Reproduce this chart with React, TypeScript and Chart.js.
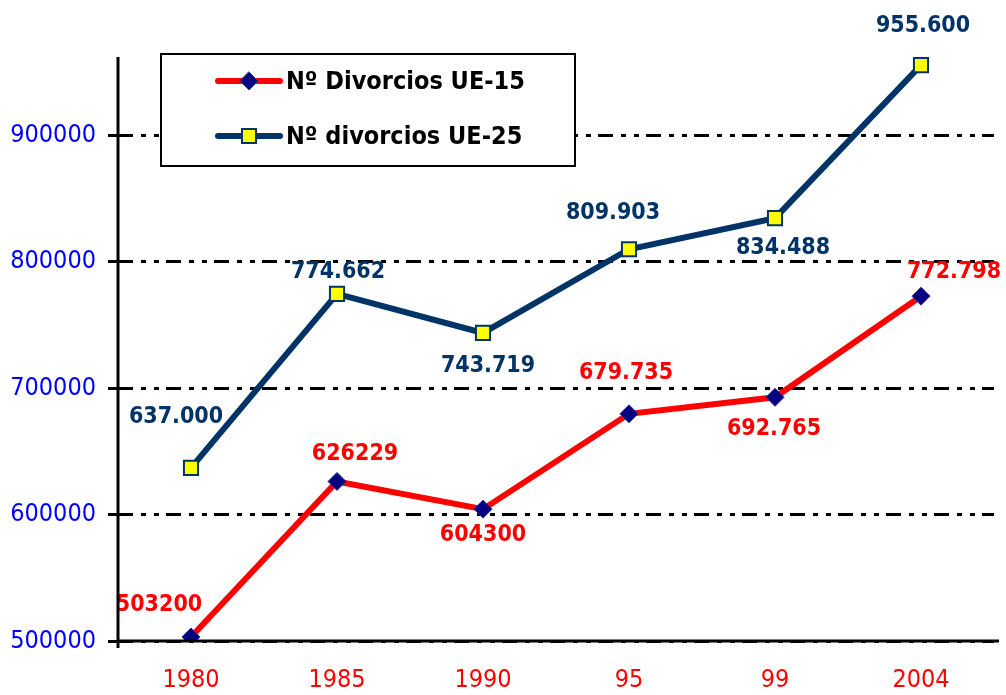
import React, { useEffect, useRef } from "react";
import { Chart, registerables } from "chart.js";

Chart.register(...registerables);

const categories = ["1980", "1985", "1990", "95", "99", "2004"];
const ue15Values = [503200, 626229, 604300, 679735, 692765, 772798];
const ue25Values = [637000, 774662, 743719, 809903, 834488, 955600];
const ue15Labels = ["503200", "626229", "604300", "679.735", "692.765", "772.798"];
const ue25Labels = ["637.000", "774.662", "743.719", "809.903", "834.488", "955.600"];
const seriesNames = ["Nº Divorcios UE-15", "Nº divorcios UE-25"];
const yTicks = [500000, 600000, 700000, 800000, 900000];

// label offsets (px) relative to each point
const ue15Offsets = [[-32, -32], [18, -27], [0, 26], [-3, -41], [-1, 32], [33, -24]];
const ue25Offsets = [[-15, -51], [1, -22], [5, 33], [-16, -36], [8, 30], [2, -39]];

const RED = "#FF0000";
const NAVY = "#003366";
const DIAMOND = "#000080";
const YELLOW = "#FFFF00";
const COND = "'DejaVu Sans Condensed', 'DejaVu Sans', sans-serif";
const LABEL_FONT = "bold 23px " + COND;

const dataLabelPlugin = {
  id: "dataLabels",
  afterDatasetsDraw(chart: any) {
    const ctx = chart.ctx;
    ctx.save();
    ctx.font = LABEL_FONT;
    ctx.textAlign = "center";
    ctx.textBaseline = "middle";
    const sets = [
      { labels: ue15Labels, offs: ue15Offsets, color: RED },
      { labels: ue25Labels, offs: ue25Offsets, color: NAVY },
    ];
    sets.forEach((s, di) => {
      const meta = chart.getDatasetMeta(di);
      meta.data.forEach((pt: any, i: number) => {
        ctx.fillStyle = s.color;
        ctx.fillText(s.labels[i], pt.x + s.offs[i][0], pt.y + s.offs[i][1]);
      });
    });
    ctx.restore();
  },
};

const axisPlugin = {
  id: "axisLines",
  afterDraw(chart: any) {
    const ctx = chart.ctx;
    const a = chart.chartArea;
    ctx.save();
    ctx.strokeStyle = "#000000";
    ctx.lineWidth = 3;
    ctx.setLineDash([]);
    ctx.beginPath();
    ctx.moveTo(a.left, a.top);
    ctx.lineTo(a.left, a.bottom + 7);
    ctx.moveTo(a.left - 1, a.bottom);
    ctx.lineTo(a.right + 5, a.bottom);
    ctx.stroke();
    ctx.restore();
  },
};

const legendPlugin = {
  id: "boxLegend",
  afterDraw(chart: any) {
    const ctx = chart.ctx;
    ctx.save();
    const bx = 161, by = 54, bw = 414, bh = 112;
    ctx.fillStyle = "#FFFFFF";
    ctx.fillRect(bx, by, bw, bh);
    ctx.strokeStyle = "#000000";
    ctx.lineWidth = 2;
    ctx.setLineDash([]);
    ctx.strokeRect(bx, by, bw, bh);
    const rows = [
      { y: 81, line: RED, kind: "diamond", text: seriesNames[0] },
      { y: 136, line: NAVY, kind: "square", text: seriesNames[1] },
    ];
    rows.forEach((r) => {
      ctx.strokeStyle = r.line;
      ctx.lineWidth = 6;
      ctx.lineCap = "round";
      ctx.beginPath();
      ctx.moveTo(218, r.y);
      ctx.lineTo(280, r.y);
      ctx.stroke();
      const cx = 249;
      if (r.kind === "diamond") {
        ctx.fillStyle = DIAMOND;
        ctx.strokeStyle = "#2b2b9c";
        ctx.lineWidth = 1;
        ctx.beginPath();
        ctx.moveTo(cx, r.y - 9);
        ctx.lineTo(cx + 9, r.y);
        ctx.lineTo(cx, r.y + 9);
        ctx.lineTo(cx - 9, r.y);
        ctx.closePath();
        ctx.fill();
        ctx.stroke();
      } else {
        ctx.fillStyle = YELLOW;
        ctx.strokeStyle = NAVY;
        ctx.lineWidth = 2;
        ctx.fillRect(cx - 7, r.y - 7, 14, 14);
        ctx.strokeRect(cx - 7, r.y - 7, 14, 14);
      }
      ctx.fillStyle = "#000000";
      ctx.font = "bold 25px " + COND;
      ctx.textAlign = "left";
      ctx.textBaseline = "middle";
      ctx.fillText(r.text, 286, r.y + 1);
    });
    ctx.restore();
  },
};

export default function App() {
  const ref = useRef<HTMLCanvasElement>(null);
  useEffect(() => {
    if (!ref.current) return;
    const chart = new Chart(ref.current, {
      type: "line",
      data: {
        labels: categories,
        datasets: [
          {
            label: seriesNames[0],
            data: ue15Values,
            borderColor: RED,
            borderWidth: 6,
            pointStyle: "rectRot",
            pointRadius: 9,
            pointBackgroundColor: DIAMOND,
            pointBorderColor: "#2b2b9c",
            pointBorderWidth: 1,
            tension: 0,
          },
          {
            label: seriesNames[1],
            data: ue25Values,
            borderColor: NAVY,
            borderWidth: 6,
            pointStyle: "rect",
            pointRadius: 10,
            pointBackgroundColor: YELLOW,
            pointBorderColor: NAVY,
            pointBorderWidth: 2,
            tension: 0,
          },
        ],
      },
      options: {
        responsive: false,
        animation: false,
        layout: { padding: { top: 57, right: 10, left: 0, bottom: 0 } },
        plugins: { legend: { display: false }, tooltip: { enabled: false } },
        scales: {
          x: {
            type: "category",
            offset: true,
            grid: { display: false, drawTicks: false },
            border: { display: false },
            ticks: {
              color: RED,
              font: { family: COND, size: 25 },
              padding: 24,
              maxRotation: 0,
            },
            afterFit: (s: any) => {
              s.height = 54;
            },
          },
          y: {
            min: 500000,
            max: 962000,
            border: { display: false, dash: [15, 8, 5, 8, 5, 7] },
            grid: {
              color: "#000000",
              lineWidth: 3,
              tickLength: 10,
              tickColor: "#000000",
              tickWidth: 3,
              tickBorderDash: [],
            },
            ticks: {
              stepSize: 100000,
              color: "#0000FF",
              font: { family: COND, size: 25 },
              padding: 12,
              callback: (v: any) => String(v),
            },
            afterBuildTicks: (s: any) => {
              s.ticks = yTicks.map((v) => ({ value: v }));
            },
            afterFit: (s: any) => {
              s.width = 118;
            },
          },
        },
      },
      plugins: [axisPlugin, dataLabelPlugin, legendPlugin],
    });
    return () => chart.destroy();
  }, []);
  return (
    <canvas
      ref={ref}
      width={1006}
      height={695}
      style={{ position: "absolute", left: 0, top: 0, width: 1006, height: 695 }}
    />
  );
}
